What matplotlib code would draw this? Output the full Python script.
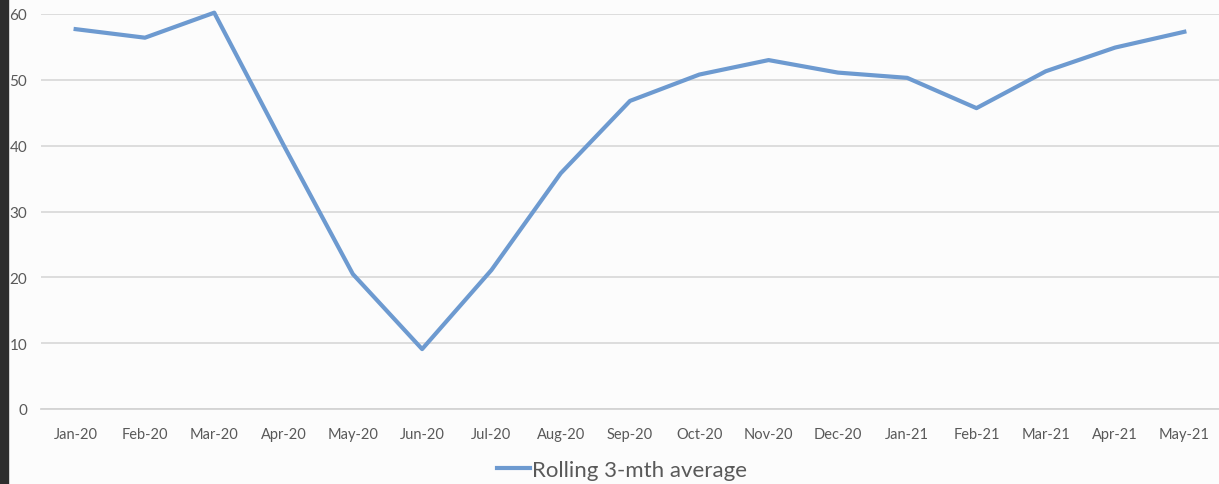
import matplotlib
matplotlib.use("Agg")
import matplotlib.pyplot as plt
from matplotlib.patches import Rectangle

plt.rcParams['font.family'] = ['Lato', 'DejaVu Sans']

# months on the category axis
months = ['Jan-20', 'Feb-20', 'Mar-20', 'Apr-20', 'May-20', 'Jun-20', 'Jul-20',
          'Aug-20', 'Sep-20', 'Oct-20', 'Nov-20', 'Dec-20', 'Jan-21', 'Feb-21',
          'Mar-21', 'Apr-21', 'May-21']
# rolling 3 month average
rolling = [57.7, 56.4, 60.2, 40.1, 20.5, 9.1, 21.1, 35.8, 46.8, 50.8, 53.0,
           51.1, 50.3, 45.7, 51.3, 54.9, 57.3]
yticks = [0, 10, 20, 30, 40, 50, 60]

fig = plt.figure(figsize=(12.19, 4.85), dpi=100)
fig.patch.set_facecolor('#fcfcfc')
ax = fig.add_axes([41 / 1219, 75 / 485, 1 - 41 / 1219, 395 / 485])
ax.set_facecolor('#fcfcfc')

x = list(range(len(months)))
ax.plot(x, rolling, color='#6d9ad0', lw=3.0, clip_on=False,
        label='Rolling 3-mth average')

ax.set_xlim(-0.5, len(months) - 0.5)
ax.set_ylim(0, 60)
ax.set_yticks(yticks)
ax.set_xticks(x)
ax.set_xticklabels(months)
ax.grid(axis='y', color='#dadada', lw=1.3)
ax.set_axisbelow(True)
for s in ['top', 'right', 'left']:
    ax.spines[s].set_visible(False)
ax.spines['bottom'].set_color('#d4d4d4')
ax.spines['bottom'].set_linewidth(1.3)
ax.tick_params(axis='both', length=0, colors='#595959', labelsize=10.5)
ax.tick_params(axis='y', labelsize=11, pad=10)
ax.tick_params(axis='x', pad=13)

fig.legend(loc='center', bbox_to_anchor=(622 / 1219, 1 - 471 / 485),
           frameon=False, fontsize=16, handlelength=1.5, handletextpad=0.1,
           labelcolor='#595959')

# dark strip at the left edge of the screenshot
fig.patches.append(Rectangle((0, 0), 8 / 1219, 1, transform=fig.transFigure,
                             color='#2e2e2e', zorder=10))

fig.savefig('out.png', dpi=100, facecolor=fig.get_facecolor())
